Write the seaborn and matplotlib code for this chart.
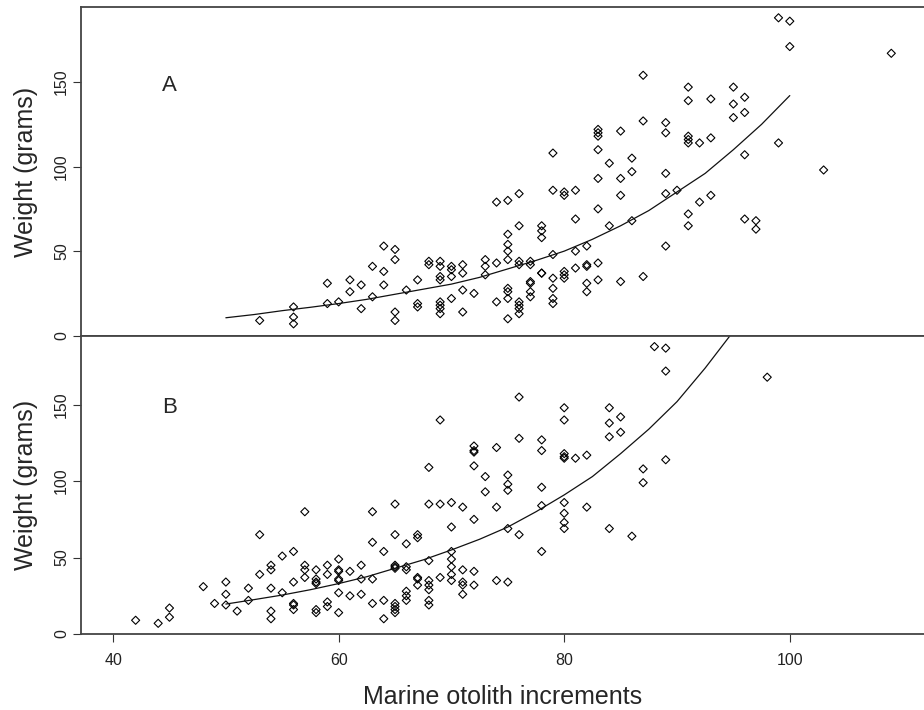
import matplotlib
matplotlib.use("Agg")
import matplotlib.pyplot as plt
import seaborn as sns
import pandas as pd

# Panel A: marine otolith increments and the weights read at each increment
a_inc = [53, 56, 59, 60, 61, 62, 63, 64, 65, 66, 67, 68, 69, 70, 71, 72, 73, 74,
         75, 76, 77, 78, 79, 80, 81, 82, 83, 84, 85, 86, 87, 89, 90, 91, 92, 93,
         95, 96, 97, 99, 100, 103, 109]
a_weight = [
    [9], [17, 11, 7], [31, 19], [20], [33, 26], [30, 16], [41, 23], [53, 38, 30],
    [51, 45, 14, 9], [27], [33, 19, 17], [44, 42],
    [44, 41, 35, 33, 20, 18, 16, 13], [41, 39, 35, 22], [42, 37, 27, 14], [25],
    [45, 41, 36], [79, 43, 20], [80, 60, 54, 50, 45, 28, 26, 22, 10],
    [84, 65, 44, 42, 20, 18, 16, 13], [44, 42, 32, 31, 26, 23],
    [65, 62, 58, 37, 37], [108, 86, 48, 34, 28, 22, 19], [85, 83, 38, 36, 34],
    [86, 69, 50, 40], [53, 42, 41, 31, 26], [122, 120, 118, 110, 93, 75, 43, 33],
    [102, 65], [121, 93, 83, 32], [105, 97, 68], [154, 127, 35],
    [126, 120, 96, 84, 53], [86], [147, 139, 118, 116, 114, 72, 65], [114, 79],
    [140, 117, 83], [147, 137, 129], [141, 132, 107, 69], [68, 63], [188, 114],
    [186, 171], [98], [167],
]

# Panel B
b_inc = [42, 44, 45, 48, 49, 50, 51, 52, 53, 54, 55, 56, 57, 58, 59, 60, 61, 62,
         63, 64, 65, 66, 67, 68, 69, 70, 71, 72, 73, 74, 75, 76, 78, 80, 81, 82,
         84, 85, 86, 87, 88, 89, 98]
b_weight = [
    [9], [7], [17, 11], [31], [20], [34, 26, 19], [15], [30, 22], [65, 39],
    [45, 42, 30, 15, 10], [51, 27], [54, 34, 20, 19, 16], [80, 45, 42, 37],
    [42, 36, 34, 33, 16, 14], [45, 39, 21, 18], [49, 42, 41, 36, 35, 27, 14],
    [41, 25], [45, 36, 26], [80, 60, 36, 20], [54, 22, 10],
    [85, 65, 45, 44, 43, 20, 18, 16, 14], [59, 44, 42, 28, 25, 22],
    [65, 63, 37, 36, 32], [109, 85, 48, 35, 32, 29, 22, 19], [140, 85, 37],
    [86, 70, 54, 49, 44, 39, 35], [83, 42, 34, 32, 26],
    [123, 120, 119, 110, 75, 41, 32], [103, 93], [122, 83, 35],
    [104, 98, 94, 69, 34], [155, 128, 65], [127, 120, 96, 84, 54],
    [148, 140, 118, 116, 115, 86, 79, 73, 69], [115], [117, 83],
    [148, 138, 129, 69], [142, 132], [64], [108, 99], [188], [187, 172, 114],
    [168],
]

# fitted curves
a_fit_x = [50, 52.5, 55, 57.5, 60, 62.5, 65, 67.5, 70, 72.5, 75, 77.5, 80, 82.5,
           85, 87.5, 90, 92.5, 95, 97.5, 100]
a_fit_y = [10.6, 12.5, 14.8, 16.8, 19, 21.5, 24.5, 27.5, 30.5, 34.5, 39.5, 44.5,
           50, 57, 65, 74, 85, 96, 110, 125, 142]
b_fit_x = [50, 52.5, 55, 57.5, 60, 62.5, 65, 67.5, 70, 72.5, 75, 77.5, 80, 82.5,
           85, 87.5, 90, 92.5, 95]
b_fit_y = [19.6, 22.5, 25.5, 29, 33, 37.5, 43, 48.5, 55, 62, 70, 80, 91, 103,
           118, 134, 152, 174, 198]

y_ticks = [0, 50, 100, 150]
x_ticks = [40, 60, 80, 100]


def to_frame(incs, weights):
    rows = [(i, w) for i, ws in zip(incs, weights) for w in ws]
    return pd.DataFrame(rows, columns=["inc", "w"])


sns.set_style("ticks")
plt.rcParams["font.family"] = ["Liberation Sans", "DejaVu Sans"]

fig = plt.figure(figsize=(9.24, 7.10), dpi=100)
ax_a = fig.add_axes([0.0877, 0.5272, 0.9123, 0.4625])
ax_b = fig.add_axes([0.0877, 0.1070, 0.9123, 0.4201])

panels = [
    (ax_a, to_frame(a_inc, a_weight), a_fit_x, a_fit_y, "A", 194.2),
    (ax_b, to_frame(b_inc, b_weight), b_fit_x, b_fit_y, "B", 195.1),
]

for ax, df, fx, fy, tag, ymax in panels:
    sns.scatterplot(data=df, x="inc", y="w", ax=ax, marker="D", s=17,
                    facecolors="none", edgecolor="black", linewidth=0.8)
    sns.lineplot(x=fx, y=fy, ax=ax, color="#111111", linewidth=0.9)
    ax.set_xlim(37.16, 111.9)
    ax.set_ylim(0, ymax)
    ax.set_yticks(y_ticks)
    ax.set_xticks(x_ticks)
    ax.tick_params(axis="y", labelrotation=90, length=5.5, pad=3,
                   labelsize=11.5, color="#333333", labelcolor="#222222")
    ax.tick_params(axis="x", length=5.5, pad=8, labelsize=11.5,
                   color="#333333", labelcolor="#222222")
    plt.setp(ax.get_yticklabels(), va="center")
    for side in ["left", "top", "bottom"]:
        ax.spines[side].set_color("#444444")
        ax.spines[side].set_linewidth(1.3)
    ax.spines["right"].set_visible(False)
    ax.set_ylabel("Weight (grams)", fontsize=18)
    ax.yaxis.set_label_coords(-0.051, 0.5)
    ax.set_xlabel("")
    ax.text(45, 148, tag, fontsize=16, ha="center", va="center")

ax_a.tick_params(axis="x", bottom=False, labelbottom=False)
ax_b.set_xlabel("Marine otolith increments", fontsize=18)
ax_b.xaxis.set_label_coords(0.5, -0.171)

fig.savefig("out.png", dpi=100)
